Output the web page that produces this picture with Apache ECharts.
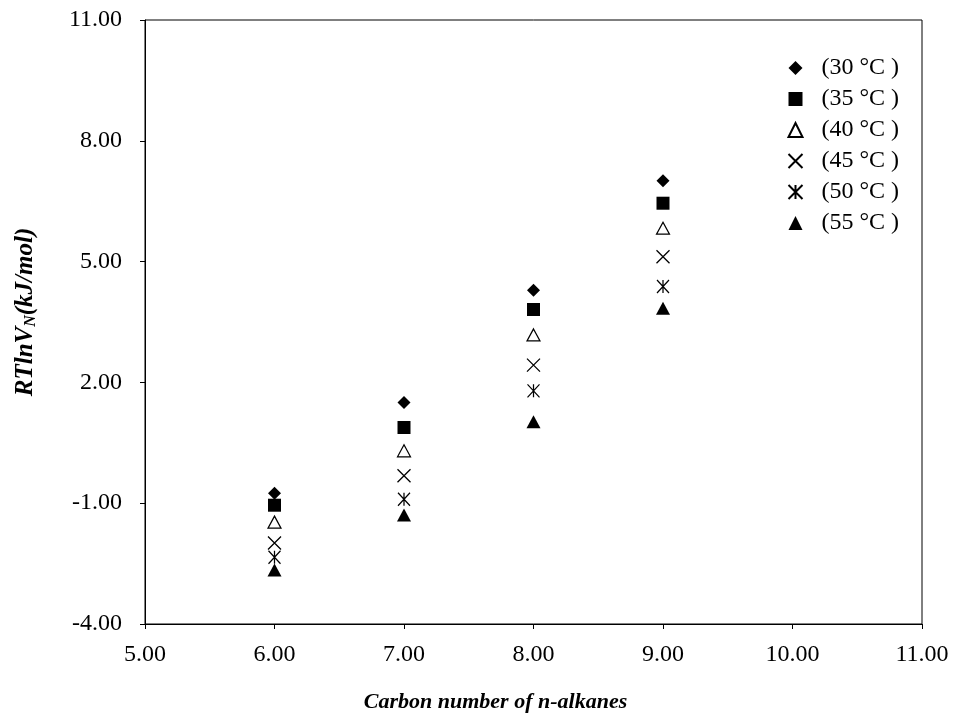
<!DOCTYPE html>
<html>
<head>
<meta charset="utf-8">
<script src="https://cdn.jsdelivr.net/npm/echarts@6/dist/echarts.min.js"></script>
<style>
  html, body {margin: 0; padding: 0; background: #fff;}
  #chart {width: 956px; height: 719px;}
</style>
</head>
<body>
<div id="chart"></div>
<script>
// carbon numbers of the n-alkanes
const carbonNumbers = [6, 7, 8, 9];

// RTlnVN (kJ/mol) at each temperature
const t30 = [-0.75, 1.50, 4.29, 7.01];
const t35 = [-1.05, 0.88, 3.81, 6.45];
const t40 = [-1.47, 0.30, 3.18, 5.83];
const t45 = [-1.99, -0.32, 2.43, 5.12];
const t50 = [-2.34, -0.90, 1.79, 4.38];
const t55 = [-2.66, -1.29, 1.02, 3.84];

const seriesNames = ['(30 °C )', '(35 °C )', '(40 °C )', '(45 °C )', '(50 °C )', '(55 °C )'];

const xTicks = {min: 5, max: 11, interval: 1};
const yTicks = {min: -4, max: 11, interval: 3};

const font = '"Liberation Serif", "Times New Roman", serif';

const crossPath = 'path://M0,0L10,10M10,0L0,10';
const starPath = 'path://M0,0L10,10M10,0L0,10M5,0L5,10';

function pairs(ys) {
  return carbonNumbers.map((c, i) => [c, ys[i]]);
}

const styles = [
  {symbol: 'diamond', symbolSize: [13, 13], itemStyle: {color: '#000', opacity: 1}},
  {symbol: 'rect', symbolSize: [13, 13], itemStyle: {color: '#000', opacity: 1}},
  {symbol: 'triangle', symbolSize: [13, 12], itemStyle: {color: '#fff', borderColor: '#000', borderWidth: 1.2, opacity: 1}},
  {symbol: crossPath, symbolSize: [13, 13], itemStyle: {color: 'none', borderColor: '#000', borderWidth: 1.3, opacity: 1}},
  {symbol: starPath, symbolSize: [12, 13], itemStyle: {color: 'none', borderColor: '#000', borderWidth: 1.3, opacity: 1}},
  {symbol: 'triangle', symbolSize: [14, 13], itemStyle: {color: '#000', opacity: 1}}
];

const allData = [t30, t35, t40, t45, t50, t55];

const chart = echarts.init(document.getElementById('chart'));
chart.setOption({
  backgroundColor: '#fff',
  animation: false,
  textStyle: {fontFamily: font},
  grid: {
    left: 145, right: 34, top: 20, bottom: 95,
    show: true, borderColor: '#000', borderWidth: 1
  },
  legend: {
    orient: 'vertical',
    left: 781,
    top: 51,
    itemGap: 7,
    itemWidth: 14,
    itemHeight: 14,
    textStyle: {fontFamily: font, fontSize: 24, color: '#000', padding: [0, 0, 0, 14]},
    data: seriesNames
  },
  xAxis: {
    type: 'value',
    min: xTicks.min, max: xTicks.max, interval: xTicks.interval,
    name: 'Carbon number of n-alkanes',
    nameLocation: 'middle',
    nameGap: 67,
    nameTextStyle: {fontFamily: font, fontSize: 22, fontWeight: 'bold', fontStyle: 'italic', color: '#000', padding: [0, 76, 0, 0]},
    axisLine: {onZero: false, lineStyle: {color: '#000', width: 1}},
    axisTick: {show: true, inside: false, length: 5, lineStyle: {color: '#000'}},
    splitLine: {show: false},
    axisLabel: {
      fontFamily: font, fontSize: 24, color: '#000', margin: 19,
      formatter: v => v.toFixed(2)
    }
  },
  yAxis: {
    type: 'value',
    min: yTicks.min, max: yTicks.max, interval: yTicks.interval,
    name: '{a|RTlnV}{s|N}{a|(kJ/mol)}',
    nameLocation: 'middle',
    nameGap: 106,
    nameRotate: 90,
    nameTextStyle: {
      padding: [0, 0, 0, 20],
      rich: {
        a: {fontFamily: font, fontSize: 25, fontWeight: 'bold', fontStyle: 'italic', color: '#000'},
        s: {fontFamily: font, fontSize: 16, fontWeight: 'bold', fontStyle: 'italic', color: '#000', verticalAlign: 'bottom', padding: [10, 0, 0, 0]}
      }
    },
    axisLine: {show: true, onZero: false, lineStyle: {color: '#000', width: 1}},
    axisTick: {show: true, inside: false, length: 5, lineStyle: {color: '#000'}},
    splitLine: {show: false},
    axisLabel: {
      fontFamily: font, fontSize: 24, color: '#000', margin: 23,
      formatter: v => v.toFixed(2)
    }
  },
  series: seriesNames.map((name, i) => ({
    name: name,
    type: 'scatter',
    data: pairs(allData[i]),
    symbol: styles[i].symbol,
    symbolSize: styles[i].symbolSize,
    itemStyle: styles[i].itemStyle
  }))
});
</script>
</body>
</html>
